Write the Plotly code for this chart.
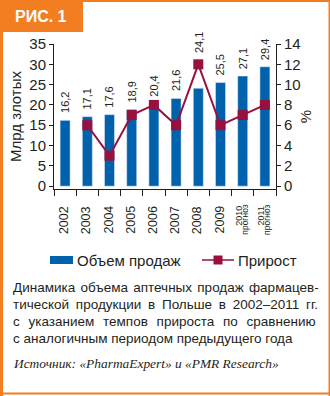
import plotly.graph_objects as go

# ---- data ----
categories = ["2002", "2003", "2004", "2005", "2006", "2007", "2008", "2009", "2010", "2011"]
year_labels = ["2002", "2003", "2004", "2005", "2006", "2007", "2008", "2009", "2010", "2011"]
forecast_years = ["2010", "2011"]
forecast_word = "прогноз"
sales = [16.2, 17.1, 17.6, 18.9, 20.4, 21.6, 24.1, 25.5, 27.1, 29.4]
growth_years = ["2003", "2004", "2005", "2006", "2007", "2008", "2009", "2010", "2011"]
growth = [6, 3, 7, 8, 6, 12, 6, 7, 8]
left_ticks = [0, 5, 10, 15, 20, 25, 30, 35]
right_ticks = [0, 2, 4, 6, 8, 10, 12, 14]
caption_lines = [
    "Динамика объема аптечных продаж фармацев-",
    "тической продукции в Польше в 2002–2011 гг.",
    "с указанием темпов прироста по сравнению",
    "с аналогичным периодом предыдущего года",
]
source_text = "Источник: «PharmaExpert» и «PMR Research»"

# ---- style ----
W, H = 330, 396
L, R, T, B = 54, 276, 44, 189
ORANGE = "#F37E22"
BLUE = "#0062AC"
CRIMSON = "#98103E"
TXT = "#231F20"
FONT = "Liberation Sans"
caption_word_spacing = [1.5, 3.0, 5.0, 0]
label_extra_shift = {"2008": 28}


def px(x):
    return (x - L) / (R - L)


def py(y):
    return (B - y) / (B - T)


fig = go.Figure()
fig.add_trace(go.Bar(
    x=categories, y=sales, marker_color=BLUE, width=0.45,
    showlegend=False, name="Объем продаж",
))
fig.add_trace(go.Scatter(
    x=growth_years, y=growth, yaxis="y2", mode="lines+markers",
    line=dict(color=CRIMSON, width=2),
    marker=dict(symbol="square", size=10, color=CRIMSON),
    showlegend=False, name="Прирост", cliponaxis=False,
))

shapes = []
annotations = []

# value labels above bars (category axis positions are category indices)
for i, (c, v) in enumerate(zip(categories, sales)):
    annotations.append(dict(
        text=f"{v:.1f}".replace(".", ","), x=i, y=v, xref="x", yref="y",
        textangle=-90, xanchor="center", yanchor="bottom", showarrow=False,
        yshift=5 + label_extra_shift.get(c, 0),
        font=dict(size=11, color=TXT, family=FONT)))

# x category labels
for i, (c, lab) in enumerate(zip(categories, year_labels)):
    if c in forecast_years:
        annotations.append(dict(text=lab, x=i, xref="x", yref="paper", y=py(204),
                                textangle=-90, xanchor="center", yanchor="top",
                                xshift=-4, showarrow=False,
                                font=dict(size=9, color=TXT, family=FONT)))
        annotations.append(dict(text=forecast_word, x=i, xref="x", yref="paper", y=py(203),
                                textangle=-90, xanchor="center", yanchor="top",
                                xshift=2, showarrow=False,
                                font=dict(size=8.5, color=TXT, family=FONT)))
    else:
        annotations.append(dict(text=lab, x=i, xref="x", yref="paper", y=py(204),
                                textangle=-90, xanchor="center", yanchor="top",
                                xshift=-1, showarrow=False,
                                font=dict(size=12.5, color=TXT, family=FONT)))

# legend (manual)
shapes.append(dict(type="rect", xref="paper", yref="paper",
                   x0=px(50), x1=px(73), y0=py(264), y1=py(256),
                   fillcolor=BLUE, line_width=0))
annotations.append(dict(text="Объем продаж", xref="paper", yref="paper",
                        x=px(75), y=py(260), xanchor="left", yanchor="middle",
                        showarrow=False, font=dict(size=15, color=TXT, family=FONT)))
shapes.append(dict(type="line", xref="paper", yref="paper",
                   x0=px(202), x1=px(234), y0=py(260), y1=py(260),
                   line=dict(color=CRIMSON, width=1.5)))
shapes.append(dict(type="rect", xref="paper", yref="paper",
                   x0=px(213.5), x1=px(222.5), y0=py(264.5), y1=py(255.5),
                   fillcolor=CRIMSON, line_width=0))
annotations.append(dict(text="Прирост", xref="paper", yref="paper",
                        x=px(236), y=py(260), xanchor="left", yanchor="middle",
                        showarrow=False, font=dict(size=15, color=TXT, family=FONT)))

# caption
for i, line in enumerate(caption_lines):
    ws = caption_word_spacing[i]
    txt = f"<span style='word-spacing:{ws}px'>{line}</span>" if ws else line
    annotations.append(dict(text=txt, xref="paper", yref="paper",
                            x=px(11), y=py(287 + i * 17.3), xanchor="left", yanchor="middle",
                            showarrow=False, font=dict(size=13.5, color=TXT, family=FONT)))
annotations.append(dict(text=f"<i>{source_text}</i>", xref="paper", yref="paper",
                        x=px(11), y=py(363), xanchor="left", yanchor="middle",
                        showarrow=False, font=dict(size=13.4, color=TXT, family="Liberation Serif")))

# frame & tab
for x0, x1, y0, y1 in [(0, 3, 0, 396), (328.5, 330, 0, 396), (0, 330, 0, 2),
                       (0, 330, 392.5, 394.5), (0, 83, 0, 32)]:
    shapes.append(dict(type="rect", xref="paper", yref="paper",
                       x0=px(x0), x1=px(x1), y0=py(y1), y1=py(y0),
                       fillcolor=ORANGE, line_width=0, layer="above"))
annotations.append(dict(text="<b>РИС. 1</b>", xref="paper", yref="paper",
                        x=px(13), y=py(16.5), xanchor="left", yanchor="middle",
                        showarrow=False, font=dict(size=16, color="white", family=FONT)))

fig.update_layout(
    width=W, height=H,
    margin=dict(l=L, r=W - R, t=T, b=H - B, pad=0),
    paper_bgcolor="white", plot_bgcolor="white",
    font=dict(family=FONT, color=TXT),
    xaxis=dict(type="category", categoryorder="array", categoryarray=categories,
               showticklabels=False,
               tickson="boundaries", ticks="outside", ticklen=6, tickcolor=TXT,
               showline=True, linecolor=TXT, linewidth=1, showgrid=False,
               range=[-0.5, 9.5]),
    yaxis=dict(range=[-0.7, 35], tickvals=left_ticks, ticks="outside", ticklen=4,
               tickcolor=TXT, showline=True, linecolor=TXT, linewidth=1,
               showgrid=False, zeroline=False,
               tickfont=dict(size=15, color=TXT, family=FONT),
               title=dict(text="Млрд злотых", font=dict(size=15, color=TXT, family=FONT), standoff=4)),
    yaxis2=dict(range=[-0.28, 14], tickvals=right_ticks, overlaying="y", side="right",
                ticks="outside", ticklen=4, tickcolor=TXT, showline=True, linecolor=TXT,
                linewidth=1, showgrid=False, zeroline=False,
                tickfont=dict(size=15, color=TXT, family=FONT),
                title=dict(text="%", font=dict(size=15, color=TXT, family=FONT), standoff=0)),
    shapes=shapes, annotations=annotations,
)

fig.write_html("out.html")
